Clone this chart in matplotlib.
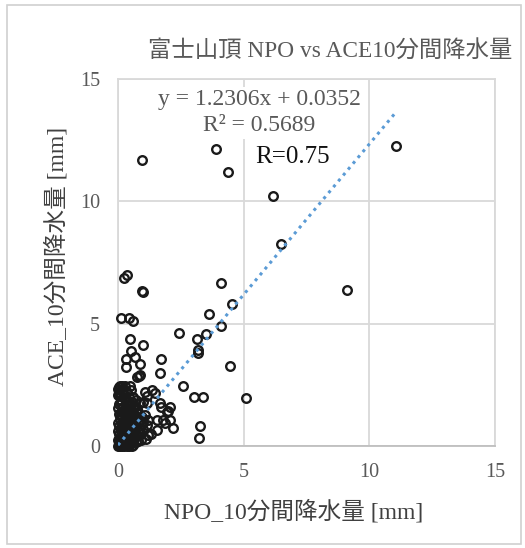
import matplotlib
matplotlib.use("Agg")
import matplotlib.pyplot as plt
from matplotlib.patches import Rectangle
import numpy as np

plt.rcParams['font.family'] = ['Liberation Serif', 'Noto Sans CJK JP', 'DejaVu Sans']

# NPO (x) vs ACE (y) 10-minute precipitation [mm]
npo = [11.05, 9.1, 6.15, 6.48, 3.88, 4.37, 0.94, 5.1, 4.1,
       0.1, 0.45, 0.58, 2.43, 3.63, 4.54, 4.09, 3.5, 3.16, 3.17, 3.2, 4.46,
       0.25, 0.34, 1.0, 0.95,
       0.48, 0.98, 0.52, 0.68, 0.3, 0.3, 0.88, 1.73, 1.67, 0.88, 0.74, 0.84,
       2.6, 0.08, 0.28, 0.48, 1.07, 1.34, 1.47, 1.14, 0.08, 0.28, 0.88, 1.14,
       1.67, 1.73, 2.07, 1.93, 0.8, 1.07, 1.2, 1.54, 1.8, 1.87, 2.2, 1.54,
       1.2, 0.88, 3.03, 3.37, 3.26, 3.22, 2.0, 2.07, 1.0,
       0.0, 0.02, 0.05, 0.08, 0.1, 0.12, 0.15, 0.18, 0.2, 0.22, 0.25, 0.28,
       0.3, 0.33, 0.35, 0.38, 0.4, 0.42, 0.45, 0.48, 0.5, 0.52, 0.55, 0.58,
       0.6, 0.62, 0.65, 0.7, 0.75, 0.8, 0.85, 0.9, 0.95, 1.0,
       0.05, 0.05, 0.08, 0.1, 0.05, 0.1, 0.15, 0.15, 0.2, 0.25, 0.25, 0.3,
       0.3, 0.35, 0.4, 0.4, 0.45, 0.5, 0.55, 0.6, 0.65, 0.7, 0.75, 0.8,
       0.02, 0.03, 0.03, 0.15, 0.35, 0.5, 0.6, 0.7, 0.2, 0.12, 0.35, 0.45,
       0.6, 0.7, 0.8, 0.9, 1.1, 1.3, 1.0, 1.15, 0.95,
       0.0, 0.0, 0.0, 0.0, 0.0, 0.0, 0.1, 0.1, 0.1, 0.1, 0.2, 0.2, 0.2, 0.2,
       0.3, 0.3, 0.3, 0.4, 0.4, 0.4, 0.5, 0.5, 0.5, 0.6, 0.6, 0.15, 0.25,
       0.35, 0.45, 0.55, 0.05, 0.15, 0.25, 0.35, 0.45]
ace = [12.26, 6.37, 10.2, 8.25, 12.15, 11.2, 11.7, 1.97, 6.66,
       5.22, 5.22, 5.11, 4.6, 5.39, 5.8, 4.92, 4.56, 4.36, 3.92, 3.79, 3.28,
       6.85, 6.99, 6.3, 6.33,
       4.36, 4.13, 3.88, 3.65, 3.54, 3.24, 3.34, 3.57, 2.97, 2.9, 2.8, 2.86,
       2.45, 2.45, 2.45, 2.45, 2.22, 2.29, 2.15, 2.04, 2.04, 1.95, 1.74, 1.74,
       1.74, 1.61, 1.61, 1.4, 1.4, 1.27, 1.06, 1.06, 1.06, 0.93, 0.72, 0.65,
       0.45, 0.72, 2.01, 2.01, 0.83, 0.34, 1.43, 1.06, 1.81,
       0.0, 0.05, 0.1, 0.02, 0.15, 0.3, 0.05, 0.2, 0.45, 0.1, 0.35, 0.6,
       0.15, 0.5, 0.8, 0.25, 0.65, 1.0, 0.4, 0.9, 0.2, 1.2, 0.55, 0.75,
       0.3, 1.1, 0.5, 0.85, 0.4, 0.6, 1.3, 0.5, 0.9, 0.7,
       0.5, 0.8, 1.1, 1.4, 1.7, 1.9, 1.2, 0.9, 1.6, 1.0, 1.35, 1.8,
       1.1, 1.5, 1.3, 1.7, 2.0, 1.5, 1.8, 1.4, 1.6, 1.2, 1.5, 1.0,
       0.3, 1.3, 2.2, 2.3, 2.2, 2.3, 2.0, 1.9, 0.7, 0.6, 0.05, 0.1,
       0.05, 0.15, 0.2, 0.25, 0.3, 0.5, 1.0, 0.85, 1.2,
       0.25, 0.6, 0.95, 1.55, 2.1, 2.35, 0.1, 0.75, 1.25, 1.75, 0.3, 0.95,
       1.45, 2.15, 0.4, 1.25, 1.95, 0.05, 0.85, 1.55, 0.6, 1.05, 1.7, 0.15,
       0.95, 0.0, 0.0, 0.0, 0.0, 0.0, 2.4, 2.45, 1.95, 1.85, 1.2]

slope, intercept = 1.2306, 0.0352
eq_text = "y = 1.2306x + 0.0352\nR² = 0.5689"
r_text = "R=0.75"
title = "富士山頂 NPO vs ACE10分間降水量"
xlabel = "NPO_10分間降水量 [mm]"
ylabel = "ACE_10分間降水量 [mm]"
ticks = [0, 5, 10, 15]

W, H = 525, 548
fig = plt.figure(figsize=(W/100, H/100), dpi=100)
fig.patches.append(Rectangle((7/W, 4/H), (521-7)/W, (543-4)/H, transform=fig.transFigure,
                             fill=False, edgecolor='#D0D0D0', linewidth=1.2))
ax = fig.add_axes([118/W, 1-446/H, (495-118)/W, (446-79)/H])

grid_c = '#D9D9D9'
ax.set_xlim(0, 15)
ax.set_ylim(0, 15)
ax.set_xticks(ticks)
ax.set_yticks(ticks)
ax.grid(True, color=grid_c, linewidth=1.3)
ax.set_axisbelow(True)
for s in ax.spines.values():
    s.set_color(grid_c)
    s.set_linewidth(1.3)
ax.spines['bottom'].set_color('#BFBFBF')
ax.tick_params(length=0, labelsize=14.5, labelcolor='#595959')
ax.tick_params(axis='y', pad=13)
ax.tick_params(axis='x', pad=12)

ax.plot(npo, ace, linestyle='none', marker='o', markersize=6.2, markerfacecolor='none',
        markeredgecolor='#1a1a1a', markeredgewidth=1.7, clip_on=False, zorder=3)

xs = np.array([min(npo), max(npo)])
ax.plot(xs, slope*xs + intercept, linestyle=(0, (1, 1.5)), color='#5B9BD5',
        linewidth=2.2, zorder=4)

ax.text(5.63, 13.62, eq_text, ha='center', va='center', fontsize=17, color='#595959',
        linespacing=1.3, multialignment='center', zorder=5,
        bbox=dict(facecolor='white', edgecolor='none', pad=2))
ax.text(5.45, 11.81, r_text, ha='left', va='center', fontsize=18, color='#111111', zorder=5)

fig.text(330/W, 1-52/H, title, ha='center', va='center', fontsize=16.8, color='#595959')
fig.text(294/W, 1-512/H, xlabel, ha='center', va='center', fontsize=17, color='#404040')
fig.text(57/W, 1-256/H, ylabel, ha='center', va='center', rotation=90, fontsize=17,
         color='#404040')

fig.savefig('out.png', dpi=100)
